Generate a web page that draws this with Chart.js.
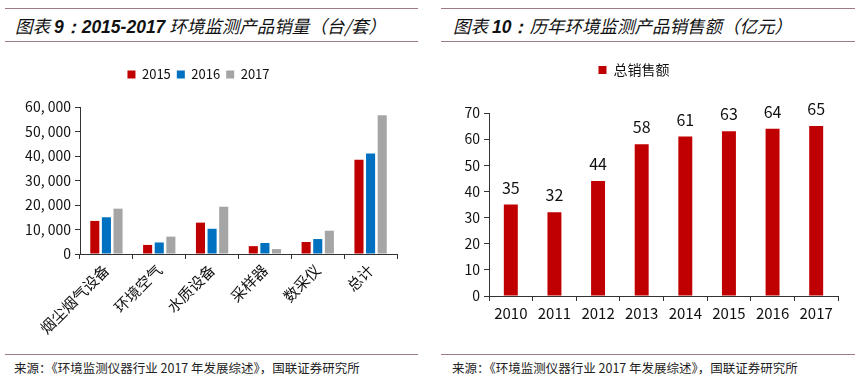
<!doctype html>
<html lang="zh">
<head>
<meta charset="utf-8">
<title>环境监测产品</title>
<script src="https://cdn.jsdelivr.net/npm/chart.js"></script>
<style>
  body { margin: 0; background: #fff; width: 859px; height: 390px; position: relative; overflow: hidden;
         font-family: "Noto Sans CJK SC", "Liberation Sans", sans-serif; }
  .rule { position: absolute; height: 1px; background: #9c7c82; }
  .title { position: absolute; top: 13px; font-size: 17.5px; font-style: italic; color: #111; white-space: nowrap; }
  .title b { font-family: "Liberation Sans", Arial, sans-serif; font-weight: bold; }
  .src { position: absolute; top: 358px; font-size: 12.5px; color: #222; white-space: nowrap; }
  .box { position: absolute; top: 50px; }
</style>
</head>
<body>
  <div class="rule" style="left:5px;width:413px;top:8px"></div>
  <div class="rule" style="left:5px;width:413px;top:41px"></div>
  <div class="title" style="left:15px">图表 <b>9：2015-2017</b> 环境监测产品销量（台/套）</div>

  <div class="rule" style="left:441px;width:414px;top:8px"></div>
  <div class="rule" style="left:441px;width:414px;top:41px"></div>
  <div class="title" style="left:453px">图表 <b>10：</b>历年环境监测产品销售额（亿元）</div>

  <div class="box" style="left:0;width:420px;height:295px"><canvas id="chartA"></canvas></div>
  <div class="box" style="left:430px;width:420px;height:295px"><canvas id="chartB"></canvas></div>

  <div class="rule" style="left:5px;width:413px;top:354px"></div>
  <div class="rule" style="left:441px;width:414px;top:354px"></div>
  <div class="src" style="left:14px">来源：《环境监测仪器行业 2017 年发展综述》，国联证券研究所</div>
  <div class="src" style="left:452px">来源：《环境监测仪器行业 2017 年发展综述》，国联证券研究所</div>

<script>
// chart 9: unit sales by product
const products = ['烟尘烟气设备', '环境空气', '水质设备', '采样器', '数采仪', '总计'];
const sales2015 = [13500, 3700, 12800, 3200, 4900, 38500];
const sales2016 = [15000, 4700, 10300, 4500, 6100, 41000];
const sales2017 = [18500, 7100, 19300, 2000, 9500, 56600];

// chart 10: revenue by year
const years = ['2010', '2011', '2012', '2013', '2014', '2015', '2016', '2017'];
const revenue = [35, 32, 44, 58, 61, 63, 64, 65];

const RED = '#c00000', BLUE = '#0070c0', GRAY = '#a5a5a5';
const CJK = '"Noto Sans CJK SC", "Liberation Sans", sans-serif';
Chart.defaults.font.family = CJK;
Chart.defaults.color = '#111';
Chart.defaults.animation = false;

// extra room under the legend (legend has no margin option)
const legendGap = {
  id: 'legendGap',
  beforeInit(chart, args, opts) {
    const fit = chart.legend.fit;
    chart.legend.fit = function () {
      fit.call(this);
      this.height += opts.gap || 0;
    };
  }
};

const fixed = size => function (scale) {
  if (scale.isHorizontal()) scale.height = size; else scale.width = size;
};

const axisX = {
  grid: { drawOnChartArea: false, drawTicks: true, tickLength: 5, color: '#333', offset: true },
  border: { color: '#333' }
};
const axisY = {
  grid: { drawOnChartArea: false, drawTicks: true, tickLength: 5, color: '#333' },
  border: { color: '#333' }
};

new Chart(document.getElementById('chartA'), {
  type: 'bar',
  data: {
    labels: products,
    datasets: [
      { label: '2015', data: sales2015, backgroundColor: RED },
      { label: '2016', data: sales2016, backgroundColor: BLUE },
      { label: '2017', data: sales2017, backgroundColor: GRAY }
    ]
  },
  options: {
    responsive: true, maintainAspectRatio: false,
    categoryPercentage: 0.66, barPercentage: 0.78,
    layout: { padding: { left: 0, right: 23, top: 12, bottom: 0 } },
    plugins: {
      legend: { labels: { boxWidth: 8, boxHeight: 8, padding: 6, font: { size: 13 } } },
      legendGap: { gap: 16 },
      tooltip: { enabled: false }
    },
    scales: {
      x: Object.assign({}, axisX, {
        afterFit: fixed(91),
        ticks: { minRotation: 45, maxRotation: 45, font: { size: 15 }, padding: 2 }
      }),
      y: Object.assign({}, axisY, {
        afterFit: fixed(80),
        min: 0, max: 60000,
        ticks: { stepSize: 10000, font: { size: 14 }, padding: 4,
          callback: v => v.toLocaleString('en-US').replace(',', ', ') }
      })
    }
  },
  plugins: [legendGap]
});

const barLabels = {
  id: 'barLabels',
  afterDatasetsDraw(chart) {
    const ctx = chart.ctx;
    const meta = chart.getDatasetMeta(0);
    ctx.save();
    ctx.font = '16px ' + CJK;
    ctx.fillStyle = '#111';
    ctx.textAlign = 'center';
    ctx.textBaseline = 'middle';
    meta.data.forEach((bar, i) => {
      ctx.fillText(chart.data.datasets[0].data[i], bar.x, bar.y - 17);
    });
    ctx.restore();
  }
};

new Chart(document.getElementById('chartB'), {
  type: 'bar',
  data: {
    labels: years,
    datasets: [{ label: '总销售额', data: revenue, backgroundColor: RED }]
  },
  options: {
    responsive: true, maintainAspectRatio: false,
    categoryPercentage: 1, barPercentage: 0.32,
    layout: { padding: { left: 0, right: 12, top: 7, bottom: 0 } },
    plugins: {
      legend: { labels: { boxWidth: 8, boxHeight: 8, padding: 6, font: { size: 14 } } },
      legendGap: { gap: 26 },
      tooltip: { enabled: false }
    },
    scales: {
      x: Object.assign({}, axisX, {
        afterFit: fixed(49),
        ticks: { font: { size: 15 }, padding: 3 }
      }),
      y: Object.assign({}, axisY, {
        afterFit: fixed(59),
        min: 0, max: 70,
        ticks: { stepSize: 10, font: { size: 14 }, padding: 4 }
      })
    }
  },
  plugins: [legendGap, barLabels]
});
</script>
</body>
</html>
